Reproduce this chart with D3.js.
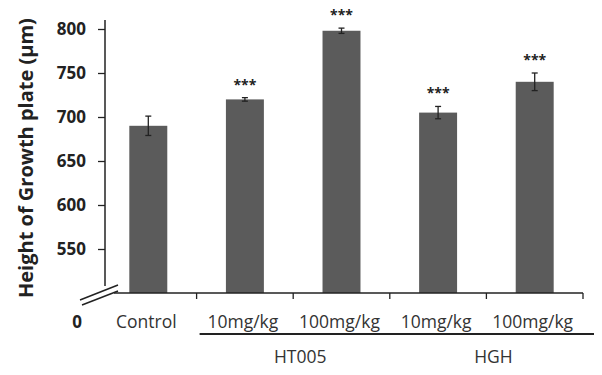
<!DOCTYPE html>
<html>
<head>
<meta charset="utf-8">
<script src="https://cdn.jsdelivr.net/npm/d3@7"></script>
<style>
  body { margin: 0; background: #fff; }
  text { font-family: "Open Sans", "Noto Sans", sans-serif; }
</style>
</head>
<body>
<svg id="chart"></svg>
<script>
const categories = ['Control', 'HT005 10', 'HT005 100', 'HGH 10', 'HGH 100'];
const catLabels = ['Control', '10mg/kg', '100mg/kg', '10mg/kg', '100mg/kg'];
const values = [690, 720, 798, 705, 740];
const errors = [11, 2, 3, 7, 10];
const stars = ['', '***', '***', '***', '***'];
const yTicks = [550, 600, 650, 700, 750, 800];
const groups = [
  { name: 'HT005', from: 1, to: 2 },
  { name: 'HGH', from: 3, to: 4 }
];

const width = 602, height = 375;
const svg = d3.select('#chart').attr('width', width).attr('height', height);

const xscale = d3.scaleBand()
  .domain(categories)
  .range([100, 583])
  .paddingInner(0.607)
  .paddingOuter(0.3035);
const step = xscale.step();
const xcenter = i => xscale(categories[i]) + xscale.bandwidth() / 2;
const xedge = i => xcenter(i) + step / 2;   // right boundary of band i

const yscale = d3.scaleLinear()
  .domain([500, 800])
  .range([293, 29]);

const barColor = '#5b5b5b';
const ink = '#222';

// bars
svg.append('g').selectAll('rect')
  .data(values)
  .join('rect')
  .attr('x', (d, i) => xscale(categories[i]))
  .attr('y', d => yscale(d))
  .attr('width', xscale.bandwidth())
  .attr('height', d => yscale(500) - yscale(d))
  .attr('fill', barColor);

// error bars
const eb = svg.append('g').attr('stroke', ink).attr('stroke-width', 1.3);
values.forEach((v, i) => {
  const cx = xcenter(i);
  eb.append('line').attr('x1', cx).attr('x2', cx)
    .attr('y1', yscale(v + errors[i])).attr('y2', yscale(v - errors[i]));
  eb.append('line').attr('x1', cx - 3).attr('x2', cx + 3)
    .attr('y1', yscale(v + errors[i])).attr('y2', yscale(v + errors[i]));
  eb.append('line').attr('x1', cx - 3).attr('x2', cx + 3)
    .attr('y1', yscale(v - errors[i])).attr('y2', yscale(v - errors[i]));
});

// significance stars
svg.append('g').selectAll('text')
  .data(stars)
  .join('text')
  .attr('x', (d, i) => xcenter(i))
  .attr('y', (d, i) => yscale(values[i] + errors[i]) - 8)
  .attr('text-anchor', 'middle')
  .attr('font-size', '14px')
  .attr('font-weight', 'bold')
  .attr('fill', ink)
  .text(d => d);

// y axis
const yaxis = d3.axisLeft(yscale).tickValues(yTicks).tickSize(7).tickSizeOuter(0);
const yg = svg.append('g').attr('transform', 'translate(105,0)').call(yaxis);
yg.select('.domain').remove();
yg.selectAll('.tick line').attr('stroke', ink).attr('stroke-width', 1.3);
yg.selectAll('.tick text')
  .attr('x', -19)
  .attr('font-size', '17px')
  .attr('font-weight', 'bold')
  .attr('fill', ink)
  .attr('font-family', '"Open Sans", "Noto Sans", sans-serif');

svg.append('line')
  .attr('x1', 105).attr('x2', 105)
  .attr('y1', 20).attr('y2', 286)
  .attr('stroke', ink).attr('stroke-width', 1.5);

// axis break
svg.append('line').attr('x1', 80).attr('y1', 300).attr('x2', 118).attr('y2', 285)
  .attr('stroke', ink).attr('stroke-width', 1.5);
svg.append('line').attr('x1', 82).attr('y1', 305).attr('x2', 118).attr('y2', 291)
  .attr('stroke', ink).attr('stroke-width', 1.5);

svg.append('text')
  .attr('x', 77).attr('y', 328)
  .attr('text-anchor', 'middle')
  .attr('font-size', '17px').attr('font-weight', 'bold')
  .attr('fill', ink)
  .text('0');

// x axis
svg.append('line')
  .attr('x1', 114).attr('x2', 583)
  .attr('y1', 293).attr('y2', 293)
  .attr('stroke', ink).attr('stroke-width', 1.5);
svg.append('g').selectAll('line')
  .data(d3.range(categories.length))
  .join('line')
  .attr('x1', i => xedge(i)).attr('x2', i => xedge(i))
  .attr('y1', 293).attr('y2', 299)
  .attr('stroke', ink).attr('stroke-width', 1.3);

// category labels
svg.append('g').selectAll('text')
  .data(catLabels)
  .join('text')
  .attr('x', (d, i) => xcenter(i) - 2)
  .attr('y', 328)
  .attr('text-anchor', 'middle')
  .attr('font-size', '17.5px')
  .attr('fill', '#333')
  .text(d => d);

// group underline + labels
groups.forEach(g => {
  const x1 = xedge(g.from - 1) + 3;
  const x2 = xedge(g.to) + 11;
  svg.append('line').attr('x1', x1).attr('x2', x2)
    .attr('y1', 334).attr('y2', 334)
    .attr('stroke', ink).attr('stroke-width', 2);
  svg.append('text')
    .attr('x', (x1 + x2) / 2).attr('y', 363)
    .attr('text-anchor', 'middle')
    .attr('font-size', '17.5px')
    .attr('fill', '#333')
    .text(g.name);
});

// y title
svg.append('text')
  .attr('transform', 'translate(33,298) rotate(-90)')
  .attr('text-anchor', 'start')
  .attr('font-size', '20px')
  .attr('font-weight', 'bold')
  .attr('fill', ink)
  .text('Height of Growth plate (μm)');
</script>
</body>
</html>
